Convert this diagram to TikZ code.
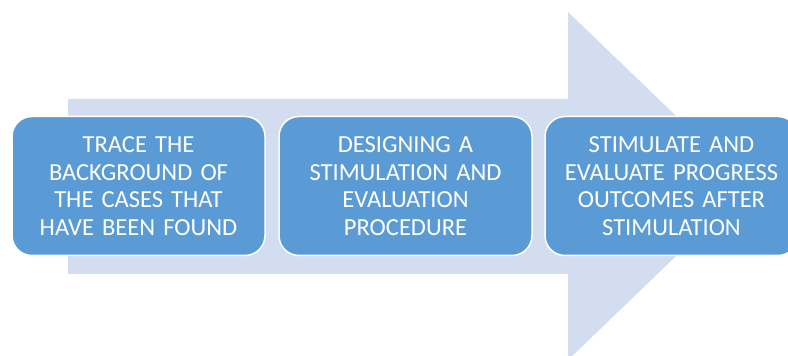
\documentclass[tikz,border=0pt]{standalone}
\usepackage{fontspec}
\setmainfont{Carlito}
\definecolor{arrowfill}{HTML}{D2DEEF}
\definecolor{boxfill}{HTML}{5B9BD5}
\begin{document}
\begin{tikzpicture}[x=1pt,y=1pt,
  stepbox/.style={rounded corners=20pt, fill=boxfill, draw=white, line width=1.5pt,
    minimum width=253pt, minimum height=139pt, text width=245pt, align=center,
    text=white, font=\fontsize{24.5}{27.5}\selectfont, inner sep=0pt}]
\useasboundingbox (0,0) rectangle (788,356);
\clip (0,0) rectangle (788,356);
\fill[arrowfill] (68,257) -- (568,257) -- (568,344) -- (749,170) -- (568,-4) -- (568,82) -- (68,82) -- cycle;
\node[stepbox] (a) at (138.5,170) {TRACE THE\\BACKGROUND OF\\THE CASES THAT\\HAVE BEEN FOUND};
\node[stepbox] (b) at (405.5,170) {DESIGNING A\\STIMULATION AND\\EVALUATION\\PROCEDURE};
\node[stepbox] (c) at (671.5,170) {STIMULATE AND\\EVALUATE PROGRESS\\OUTCOMES AFTER\\STIMULATION};
\end{tikzpicture}
\end{document}
